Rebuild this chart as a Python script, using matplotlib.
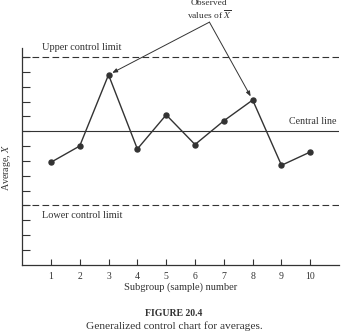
import matplotlib
matplotlib.use("Agg")
import matplotlib.pyplot as plt

plt.rcParams['font.family'] = ['Liberation Serif', 'DejaVu Serif']
plt.rcParams['mathtext.fontset'] = 'stix'

# subgroup averages
subgroups = [1, 2, 3, 4, 5, 6, 7, 8, 9, 10]
averages = [6.9, 8.0, 12.8, 7.8, 10.1, 8.1, 9.7, 11.1, 6.7, 7.6]
upper_limit = 14
central = 9
lower_limit = 4
y_ticks = [1, 2, 3, 4, 5, 6, 7, 8, 9, 10, 11, 12, 13, 14]

ink = '#333333'

fig = plt.figure(figsize=(3.5, 3.34), dpi=100)
ax = fig.add_axes([0.063, 0.2075, 0.906, 0.6485])

ax.plot(subgroups, averages, color=ink, lw=1.0, marker='o', ms=3.6, zorder=3)

ax.axhline(upper_limit, color=ink, lw=0.8, ls=(0, (6, 3)))
ax.axhline(central, color=ink, lw=0.8)
ax.axhline(lower_limit, color=ink, lw=0.8, ls=(0, (6, 3)))

ax.text(0.7, upper_limit + 0.35, 'Upper control limit', fontsize=7.4, color=ink, va='bottom')
ax.text(10.9, central + 0.35, 'Central line', fontsize=7.2, color=ink, va='bottom', ha='right')
ax.text(0.7, lower_limit - 0.35, 'Lower control limit', fontsize=7.4, color=ink, va='top')

# callout pointing at the two highest averages
tail = (6.5, 16.35)
ax.text(tail[0], tail[1] + 0.1, 'Observed\nvalues of $\\overline{X}$', ha='center', va='bottom',
        fontsize=6.8, color=ink, linespacing=1.05, clip_on=False)
for i in (2, 7):
    ax.annotate('', xy=(subgroups[i], averages[i]), xytext=tail, annotation_clip=False,
                arrowprops=dict(arrowstyle='-|>,head_length=0.3,head_width=0.12',
                                color=ink, lw=0.7, shrinkA=0, shrinkB=3))

ax.set_xlim(0, 11)
ax.set_ylim(0, 14.6)
ax.set_xticks(subgroups)
ax.set_yticks(y_ticks)
ax.set_yticklabels([])
ax.tick_params(axis='x', direction='in', length=4, width=0.8, color=ink,
               labelsize=7, labelcolor=ink, pad=5)
ax.tick_params(axis='y', direction='in', length=6, width=0.8, color=ink, pad=0)
for side in ['top', 'right']:
    ax.spines[side].set_visible(False)
for side in ['left', 'bottom']:
    ax.spines[side].set_color(ink)
    ax.spines[side].set_linewidth(0.9)

ax.set_xlabel('Subgroup (sample) number', fontsize=7.5, color=ink, labelpad=1)
ax.set_ylabel('Average, $\\overline{X}$', fontsize=7.2, color=ink)
ax.yaxis.set_label_coords(-0.024, 0.45)

fig.text(0.497, 0.055, 'FIGURE 20.4', ha='center', fontsize=7, fontweight='bold', color=ink)
fig.text(0.497, 0.015, 'Generalized control chart for averages.', ha='center', fontsize=8.2, color=ink)

fig.savefig('out.png', dpi=100)
